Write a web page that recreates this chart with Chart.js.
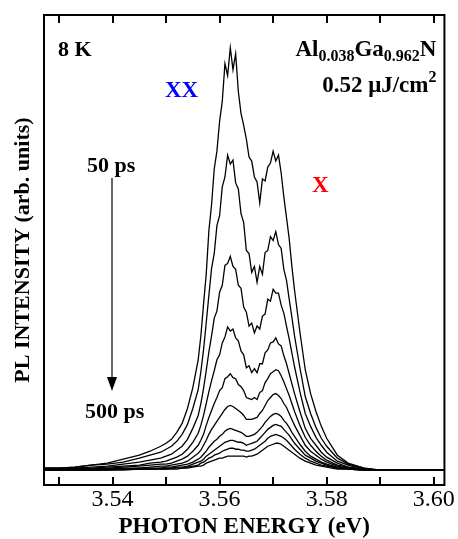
<!DOCTYPE html>
<html>
<head>
<meta charset="utf-8">
<title>Time-resolved PL, AlGaN</title>
<script src="https://cdn.jsdelivr.net/npm/chart.js@4.4.1/dist/chart.umd.min.js"></script>
<style>
  html, body { margin: 0; padding: 0; background: #fff; }
  canvas { display: block; }
</style>
</head>
<body>
<canvas id="plChart" width="458" height="539"></canvas>
<script>
  // photon energy grid (eV), finer across the XX / X peaks
  const energies = [
    3.527, 3.530, 3.533, 3.536, 3.539, 3.542, 3.545, 3.547, 3.549, 3.550,
    3.551, 3.552, 3.553, 3.554, 3.555, 3.556, 3.5565, 3.557, 3.5575, 3.558,
    3.5585, 3.559, 3.5595, 3.560, 3.5605, 3.561, 3.5615, 3.562, 3.5625, 3.563,
    3.5635, 3.564, 3.5645, 3.565, 3.5655, 3.566, 3.5665, 3.567, 3.5675, 3.568,
    3.5685, 3.569, 3.5695, 3.570, 3.5705, 3.571, 3.5715, 3.572, 3.5725, 3.573,
    3.5735, 3.574, 3.575, 3.576, 3.577, 3.578, 3.579, 3.580, 3.582, 3.584,
    3.587, 3.590, 3.595, 3.602
  ];

  // PL intensity (arb. units), one array per delay
  const pl50 = [
    3, 3, 4, 6, 8, 12, 16, 20, 25, 28,
    32, 39, 48, 63, 84, 112, 136, 168, 198, 242,
    268, 304, 322, 352, 372, 410, 398, 426, 404, 420,
    382, 360, 348, 334, 316, 312, 296, 291, 270, 294,
    292, 306, 310, 322, 312, 318, 300, 276, 255, 234,
    206, 182, 140, 102, 78, 60, 45, 33, 16, 8,
    3, 1, 1, 1
  ];
  const pl100 = [
    3, 3, 4, 6, 7, 9, 13, 16, 19, 22,
    25, 30, 37, 47, 63, 82, 100, 122, 149, 177,
    204, 219, 247, 257, 286, 296, 318, 309, 313, 290,
    284, 259, 250, 222, 219, 200, 206, 190, 206, 198,
    220, 222, 236, 232, 241, 228, 224, 203, 192, 173,
    155, 136, 104, 75, 58, 44, 33, 25, 13, 7,
    3, 1, 1, 1
  ];
  const pl150 = [
    3, 3, 3, 4, 5, 7, 9, 11, 13, 15,
    17, 21, 25, 32, 43, 56, 68, 83, 101, 120,
    136, 154, 161, 180, 187, 207, 209, 216, 206, 203,
    187, 184, 165, 160, 146, 149, 139, 146, 143, 156,
    158, 173, 171, 183, 179, 179, 167, 159, 146, 133,
    119, 105, 80, 58, 45, 34, 26, 19, 10, 6,
    2, 1, 1, 1
  ];
  const pl200 = [
    2, 2, 3, 3, 4, 5, 6, 8, 9, 10,
    12, 14, 17, 22, 29, 38, 46, 56, 68, 80,
    91, 101, 112, 117, 129, 135, 145, 141, 143, 134,
    131, 121, 117, 104, 106, 99, 103, 99, 108, 108,
    119, 122, 129, 130, 134, 128, 126, 116, 108, 98,
    88, 78, 60, 43, 33, 26, 19, 14, 8, 4,
    2, 1, 1, 1
  ];
  const pl250 = [
    2, 2, 2, 2, 3, 4, 5, 6, 7, 7,
    8, 10, 12, 15, 20, 26, 31, 37, 46, 54,
    61, 68, 74, 81, 84, 93, 95, 98, 94, 93,
    87, 85, 81, 74, 73, 72, 74, 72, 79, 81,
    89, 93, 98, 100, 102, 101, 96, 90, 83, 76,
    68, 60, 46, 34, 26, 20, 15, 11, 6, 4,
    2, 1, 1, 1
  ];
  const pl300 = [
    1, 2, 2, 2, 2, 3, 3, 4, 5, 5,
    6, 7, 8, 10, 14, 18, 21, 26, 31, 37,
    42, 46, 50, 54, 58, 62, 65, 66, 65, 63,
    61, 59, 56, 52, 52, 52, 53, 54, 58, 61,
    66, 71, 74, 77, 78, 76, 73, 68, 64, 58,
    52, 46, 36, 26, 20, 16, 12, 9, 5, 3,
    2, 1, 1, 1
  ];
  const pl350 = [
    1, 1, 2, 2, 2, 2, 3, 3, 3, 4,
    4, 5, 6, 7, 9, 12, 14, 17, 20, 24,
    27, 30, 32, 35, 37, 40, 42, 43, 42, 41,
    40, 39, 37, 35, 35, 36, 37, 39, 42, 45,
    49, 52, 55, 57, 58, 57, 55, 51, 48, 44,
    39, 35, 27, 20, 15, 12, 9, 7, 4, 3,
    1, 1, 1, 1
  ];
  const pl400 = [
    1, 1, 1, 1, 2, 2, 2, 2, 3, 3,
    3, 4, 4, 5, 7, 9, 10, 12, 15, 17,
    19, 21, 23, 25, 27, 29, 30, 31, 31, 30,
    29, 29, 28, 26, 27, 28, 29, 30, 33, 36,
    39, 42, 44, 46, 47, 46, 45, 42, 39, 36,
    32, 28, 22, 16, 13, 10, 8, 6, 3, 2,
    1, 1, 1, 1
  ];
  const pl450 = [
    1, 1, 1, 1, 1, 2, 2, 2, 2, 2,
    3, 3, 3, 4, 5, 6, 8, 9, 11, 13,
    14, 16, 17, 18, 20, 21, 22, 23, 23, 22,
    22, 21, 21, 20, 20, 21, 22, 24, 26, 28,
    30, 33, 35, 36, 37, 36, 35, 33, 31, 28,
    25, 22, 17, 13, 10, 8, 6, 5, 3, 2,
    1, 1, 1, 1
  ];
  const pl500 = [
    1, 1, 1, 1, 1, 1, 2, 2, 2, 2,
    2, 2, 3, 3, 4, 5, 5, 6, 8, 9,
    10, 11, 12, 13, 13, 14, 15, 15, 15, 15,
    15, 15, 15, 14, 15, 15, 16, 17, 19, 21,
    23, 25, 26, 27, 28, 28, 27, 25, 23, 21,
    19, 17, 13, 10, 8, 6, 5, 4, 2, 2,
    1, 1, 1, 1
  ];

  const delays = ['50 ps', '100 ps', '150 ps', '200 ps', '250 ps',
                  '300 ps', '350 ps', '400 ps', '450 ps', '500 ps'];
  const spectra = [pl50, pl100, pl150, pl200, pl250, pl300, pl350, pl400, pl450, pl500];

  // x axis: a tick every 10 meV, label every 20 meV
  const xTicks = [3.53, 3.54, 3.55, 3.56, 3.57, 3.58, 3.59, 3.60];
  const xTickLabels = ['', '3.54', '', '3.56', '', '3.58', '', '3.60'];

  const SERIF = '"Liberation Serif", "Times New Roman", serif';

  // box round the plot, ticks pointing inwards on top and bottom
  const framePlugin = {
    id: 'frame',
    afterDraw(chart) {
      const { ctx, chartArea: a, scales: { x } } = chart;
      ctx.save();
      ctx.strokeStyle = '#000';
      ctx.lineWidth = 2;
      ctx.strokeRect(a.left, a.top, a.right - a.left, a.bottom - a.top);
      ctx.beginPath();
      xTicks.forEach((v) => {
        const px = Math.round(x.getPixelForValue(v));
        ctx.moveTo(px, a.bottom);
        ctx.lineTo(px, a.bottom - 8);
        ctx.moveTo(px, a.top);
        ctx.lineTo(px, a.top + 8);
      });
      ctx.stroke();
      ctx.restore();
    },
  };

  // text runs with sub/superscripts, right aligned
  function drawRuns(ctx, runs, right, base) {
    let w = 0;
    runs.forEach((r) => { ctx.font = r.font; w += ctx.measureText(r.t).width; });
    let xPos = right - w;
    runs.forEach((r) => {
      ctx.font = r.font;
      ctx.fillText(r.t, xPos, base + r.dy);
      xPos += ctx.measureText(r.t).width;
    });
  }

  const notesPlugin = {
    id: 'notes',
    afterDraw(chart) {
      const { ctx, chartArea: a } = chart;
      const big = `bold 22px ${SERIF}`;
      const head = `bold 23px ${SERIF}`;
      const small = `bold 16px ${SERIF}`;
      ctx.save();
      ctx.textBaseline = 'alphabetic';
      ctx.textAlign = 'left';
      ctx.fillStyle = '#000';
      ctx.font = big;
      ctx.fillText('8 K', a.left + 14, a.top + 41);

      drawRuns(ctx, [
        { t: 'Al', font: head, dy: 0 },
        { t: '0.038', font: small, dy: 5 },
        { t: 'Ga', font: head, dy: 0 },
        { t: '0.962', font: small, dy: 5 },
        { t: 'N', font: head, dy: 0 },
      ], a.right - 8, a.top + 41);
      drawRuns(ctx, [
        { t: '0.52 \u03bcJ/cm', font: head, dy: 0 },
        { t: '2', font: small, dy: -10 },
      ], a.right - 8, a.top + 77);

      ctx.font = head;
      ctx.fillStyle = '#0000ff';
      ctx.fillText('XX', a.left + 121, a.top + 82);
      ctx.fillStyle = '#ff0000';
      ctx.fillText('X', a.left + 268, a.top + 177);

      ctx.font = big;
      ctx.fillStyle = '#000';
      ctx.fillText(delays[0], a.left + 43, a.top + 157);
      ctx.fillText(delays[delays.length - 1], a.left + 41, a.top + 403);

      // time arrow
      const ax = a.left + 68;
      ctx.strokeStyle = '#000';
      ctx.lineWidth = 1.2;
      ctx.beginPath();
      ctx.moveTo(ax, a.top + 163);
      ctx.lineTo(ax, a.top + 364);
      ctx.stroke();
      ctx.beginPath();
      ctx.moveTo(ax - 5, a.top + 362);
      ctx.lineTo(ax + 5, a.top + 362);
      ctx.lineTo(ax, a.top + 376);
      ctx.closePath();
      ctx.fill();
      ctx.restore();
    },
  };

  const datasets = spectra.map((vals, i) => ({
    label: delays[i],
    data: energies.map((e, j) => ({ x: e, y: vals[j] })),
    borderColor: '#000',
    borderWidth: 1.3,
    pointRadius: 0,
    fill: false,
    tension: 0,
  }));

  new Chart(document.getElementById('plChart'), {
    type: 'line',
    data: { datasets },
    options: {
      responsive: false,
      animation: false,
      devicePixelRatio: 1,
      layout: { padding: { top: 15, right: 10, left: 0, bottom: 0 } },
      plugins: { legend: { display: false }, tooltip: { enabled: false } },
      scales: {
        x: {
          type: 'linear',
          min: 3.5272,
          max: 3.602,
          afterBuildTicks: (scale) => { scale.ticks = xTicks.map((v) => ({ value: v })); },
          grid: { display: false, drawTicks: false, tickLength: 0 },
          border: { display: false },
          ticks: {
            color: '#000',
            padding: 3,
            maxRotation: 0,
            autoSkip: false,
            font: { family: SERIF, size: 24, lineHeight: 1 },
            callback: (value, index) => xTickLabels[index],
          },
          title: {
            display: true,
            text: 'PHOTON ENERGY (eV)',
            color: '#000',
            padding: { top: 1, bottom: 0 },
            font: { family: SERIF, size: 23, weight: 'bold', lineHeight: 1 },
          },
        },
        y: {
          type: 'linear',
          min: -14,
          max: 459,
          grid: { display: false, drawTicks: false, tickLength: 0 },
          border: { display: false },
          ticks: { display: false },
          title: {
            display: true,
            text: 'PL INTENSITY (arb. units)',
            color: '#000',
            padding: { top: 12, bottom: 10 },
            font: { family: SERIF, size: 22, weight: 'bold', lineHeight: 1 },
          },
        },
      },
    },
    plugins: [framePlugin, notesPlugin],
  });
</script>
</body>
</html>
